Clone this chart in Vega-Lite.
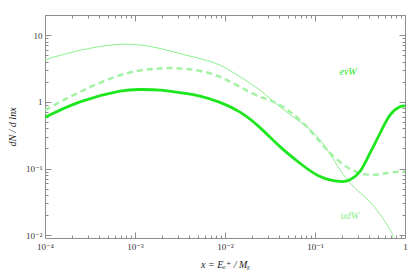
{
  "$schema": "https://vega.github.io/schema/vega-lite/v6.json",
  "width": 360,
  "height": 223,
  "autosize": "none",
  "padding": {"left": 45, "top": 15, "right": 4, "bottom": 42},
  "background": "white",
  "config": {
    "font": "'Liberation Serif', 'Times New Roman', 'DejaVu Serif', serif",
    "view": {"stroke": null},
    "axis": {
      "grid": false,
      "domainColor": "#8c8c8c",
      "tickColor": "#8c8c8c",
      "labelFont": "'Liberation Serif', 'Times New Roman', 'DejaVu Serif', serif",
      "labelFontSize": 9,
      "labelColor": "#333333",
      "titleFont": "'Liberation Serif', 'Times New Roman', 'DejaVu Serif', serif",
      "titleFontStyle": "italic",
      "titleFontWeight": "normal",
      "titleFontSize": 10,
      "titleColor": "#222222"
    }
  },
  "datasets": {
    "curves": [
      {"s": "udW", "x": 0.0001, "y": 4.29},
      {"s": "udW", "x": 0.000245, "y": 5.91},
      {"s": "udW", "x": 0.0006, "y": 7.19},
      {"s": "udW", "x": 0.00114, "y": 7.1},
      {"s": "udW", "x": 0.0019, "y": 6.3},
      {"s": "udW", "x": 0.00316, "y": 5.28},
      {"s": "udW", "x": 0.00527, "y": 4.44},
      {"s": "udW", "x": 0.0088, "y": 3.54},
      {"s": "udW", "x": 0.0147, "y": 2.37},
      {"s": "udW", "x": 0.0245, "y": 1.49},
      {"s": "udW", "x": 0.0408, "y": 0.841},
      {"s": "udW", "x": 0.0681, "y": 0.502},
      {"s": "udW", "x": 0.1136, "y": 0.268},
      {"s": "udW", "x": 0.19, "y": 0.0957},
      {"s": "udW", "x": 0.245, "y": 0.0612},
      {"s": "udW", "x": 0.316, "y": 0.0434},
      {"s": "udW", "x": 0.464, "y": 0.0259},
      {"s": "udW", "x": 0.681, "y": 0.0122},
      {"s": "udW", "x": 0.736, "y": 0.0093},
      {"s": "udW", "x": 0.8, "y": 0.006},
      {"s": "dash", "x": 0.0001, "y": 0.752},
      {"s": "dash", "x": 0.000245, "y": 1.41},
      {"s": "dash", "x": 0.00068, "y": 2.5},
      {"s": "dash", "x": 0.00147, "y": 3.08},
      {"s": "dash", "x": 0.00245, "y": 3.2},
      {"s": "dash", "x": 0.00316, "y": 3.16},
      {"s": "dash", "x": 0.00527, "y": 2.9},
      {"s": "dash", "x": 0.0088, "y": 2.36},
      {"s": "dash", "x": 0.0147, "y": 1.67},
      {"s": "dash", "x": 0.0245, "y": 1.19},
      {"s": "dash", "x": 0.0379, "y": 0.946},
      {"s": "dash", "x": 0.0681, "y": 0.533},
      {"s": "dash", "x": 0.1136, "y": 0.253},
      {"s": "dash", "x": 0.147, "y": 0.171},
      {"s": "dash", "x": 0.215, "y": 0.11},
      {"s": "dash", "x": 0.316, "y": 0.0854},
      {"s": "dash", "x": 0.464, "y": 0.0805},
      {"s": "dash", "x": 0.681, "y": 0.0871},
      {"s": "dash", "x": 1.0, "y": 0.0902},
      {"s": "evW", "x": 0.0001, "y": 0.585},
      {"s": "evW", "x": 0.000245, "y": 1.0},
      {"s": "evW", "x": 0.00068, "y": 1.44},
      {"s": "evW", "x": 0.00114, "y": 1.53},
      {"s": "evW", "x": 0.0019, "y": 1.5},
      {"s": "evW", "x": 0.00316, "y": 1.37},
      {"s": "evW", "x": 0.00527, "y": 1.22},
      {"s": "evW", "x": 0.0088, "y": 0.98},
      {"s": "evW", "x": 0.0147, "y": 0.7},
      {"s": "evW", "x": 0.0245, "y": 0.41},
      {"s": "evW", "x": 0.0408, "y": 0.213},
      {"s": "evW", "x": 0.0681, "y": 0.12},
      {"s": "evW", "x": 0.1136, "y": 0.076},
      {"s": "evW", "x": 0.19, "y": 0.064},
      {"s": "evW", "x": 0.245, "y": 0.0678},
      {"s": "evW", "x": 0.316, "y": 0.0902},
      {"s": "evW", "x": 0.408, "y": 0.17},
      {"s": "evW", "x": 0.528, "y": 0.338},
      {"s": "evW", "x": 0.681, "y": 0.633},
      {"s": "evW", "x": 0.88, "y": 0.842},
      {"s": "evW", "x": 1.0, "y": 0.863}
    ],
    "labels": [
      {"label": "evW", "x": 0.233, "y": 2.8, "c": "a"},
      {"label": "udW", "x": 0.245, "y": 0.0197, "c": "b"}
    ]
  },
  "layer": [
    {
      "data": {"name": "curves"},
      "transform": [{"filter": "datum.s == 'udW'"}],
      "mark": {"type": "line", "clip": true, "interpolate": "natural", "color": "#8cf08c", "strokeWidth": 1},
      "encoding": {
        "x": {"field": "x", "type": "quantitative", "scale": {"type": "log", "domain": [0.0001, 1], "nice": false},
          "axis": {"orient": "bottom", "title": "x = Eₑ⁺ / Mᵪ", "titlePadding": 5,
            "values": [0.0001,0.0002,0.0003,0.0004,0.0005,0.0006,0.0007,0.0008,0.0009,0.001,0.002,0.003,0.004,0.005,0.006,0.007,0.008,0.009,0.01,0.02,0.03,0.04,0.05,0.06,0.07,0.08,0.09,0.1,0.2,0.3,0.4,0.5,0.6,0.7,0.8,0.9,1],
            "tickSize": {"condition": {"test": "abs(log(datum.value)/LN10 - round(log(datum.value)/LN10)) < 0.001", "value": -6}, "value": -3},
            "labelPadding": 10,
            "labelFlush": false,
            "labelOverlap": false,
            "labelExpr": "abs(log(datum.value)/LN10 - round(log(datum.value)/LN10)) > 0.001 ? '' : round(log(datum.value)/LN10) == 0 ? '1' : round(log(datum.value)/LN10) == 1 ? '10' : '10' + replace(replace(replace(replace(replace('' + round(log(datum.value)/LN10), '-', '⁻'), '1', '¹'), '2', '²'), '3', '³'), '4', '⁴')"}},
        "y": {"field": "y", "type": "quantitative", "scale": {"type": "log", "domain": [0.0091, 20], "nice": false},
          "axis": {"orient": "left", "title": "dN / d lnx", "titlePadding": 8,
            "values": [0.01,0.02,0.03,0.04,0.05,0.06,0.07,0.08,0.09,0.1,0.2,0.3,0.4,0.5,0.6,0.7,0.8,0.9,1,2,3,4,5,6,7,8,9,10,20],
            "tickSize": {"condition": {"test": "abs(log(datum.value)/LN10 - round(log(datum.value)/LN10)) < 0.001", "value": -6}, "value": -3},
            "labelPadding": 9,
            "labelFlush": false,
            "labelOverlap": false,
            "labelExpr": "abs(log(datum.value)/LN10 - round(log(datum.value)/LN10)) > 0.001 ? '' : round(log(datum.value)/LN10) == 0 ? '1' : round(log(datum.value)/LN10) == 1 ? '10' : '10' + replace(replace(replace(replace(replace('' + round(log(datum.value)/LN10), '-', '⁻'), '1', '¹'), '2', '²'), '3', '³'), '4', '⁴')"}}
      }
    },
    {
      "data": {"name": "curves"},
      "transform": [{"filter": "datum.s == 'dash'"}],
      "mark": {"type": "line", "clip": true, "interpolate": "natural", "color": "#a3f2a3", "strokeWidth": 2.5, "strokeDash": [6, 4]},
      "encoding": {
        "x": {"field": "x", "type": "quantitative", "axis": null},
        "y": {"field": "y", "type": "quantitative", "axis": null}
      }
    },
    {
      "data": {"name": "curves"},
      "transform": [{"filter": "datum.s == 'evW'"}],
      "mark": {"type": "line", "clip": true, "interpolate": "natural", "color": "#1ee61e", "strokeWidth": 2.8},
      "encoding": {
        "x": {"field": "x", "type": "quantitative", "axis": null},
        "y": {"field": "y", "type": "quantitative", "axis": null}
      }
    },
    {
      "data": {"name": "labels"},
      "mark": {"type": "text", "fontStyle": "italic", "fontSize": 10},
      "encoding": {
        "x": {"field": "x", "type": "quantitative",
          "axis": {"orient": "top", "title": null, "labels": false,
            "values": [0.0001,0.0002,0.0003,0.0004,0.0005,0.0006,0.0007,0.0008,0.0009,0.001,0.002,0.003,0.004,0.005,0.006,0.007,0.008,0.009,0.01,0.02,0.03,0.04,0.05,0.06,0.07,0.08,0.09,0.1,0.2,0.3,0.4,0.5,0.6,0.7,0.8,0.9,1],
            "tickSize": {"condition": {"test": "abs(log(datum.value)/LN10 - round(log(datum.value)/LN10)) < 0.001", "value": -6}, "value": -3}}},
        "y": {"field": "y", "type": "quantitative",
          "axis": {"orient": "right", "title": null, "labels": false,
            "values": [0.01,0.02,0.03,0.04,0.05,0.06,0.07,0.08,0.09,0.1,0.2,0.3,0.4,0.5,0.6,0.7,0.8,0.9,1,2,3,4,5,6,7,8,9,10,20],
            "tickSize": {"condition": {"test": "abs(log(datum.value)/LN10 - round(log(datum.value)/LN10)) < 0.001", "value": -6}, "value": -3}}},
        "text": {"field": "label"},
        "color": {"field": "c", "type": "nominal", "scale": {"domain": ["a", "b"], "range": ["#1ee61e", "#8cf08c"]}, "legend": null}
      }
    }
  ],
  "resolve": {"axis": {"x": "independent", "y": "independent"}}
}
